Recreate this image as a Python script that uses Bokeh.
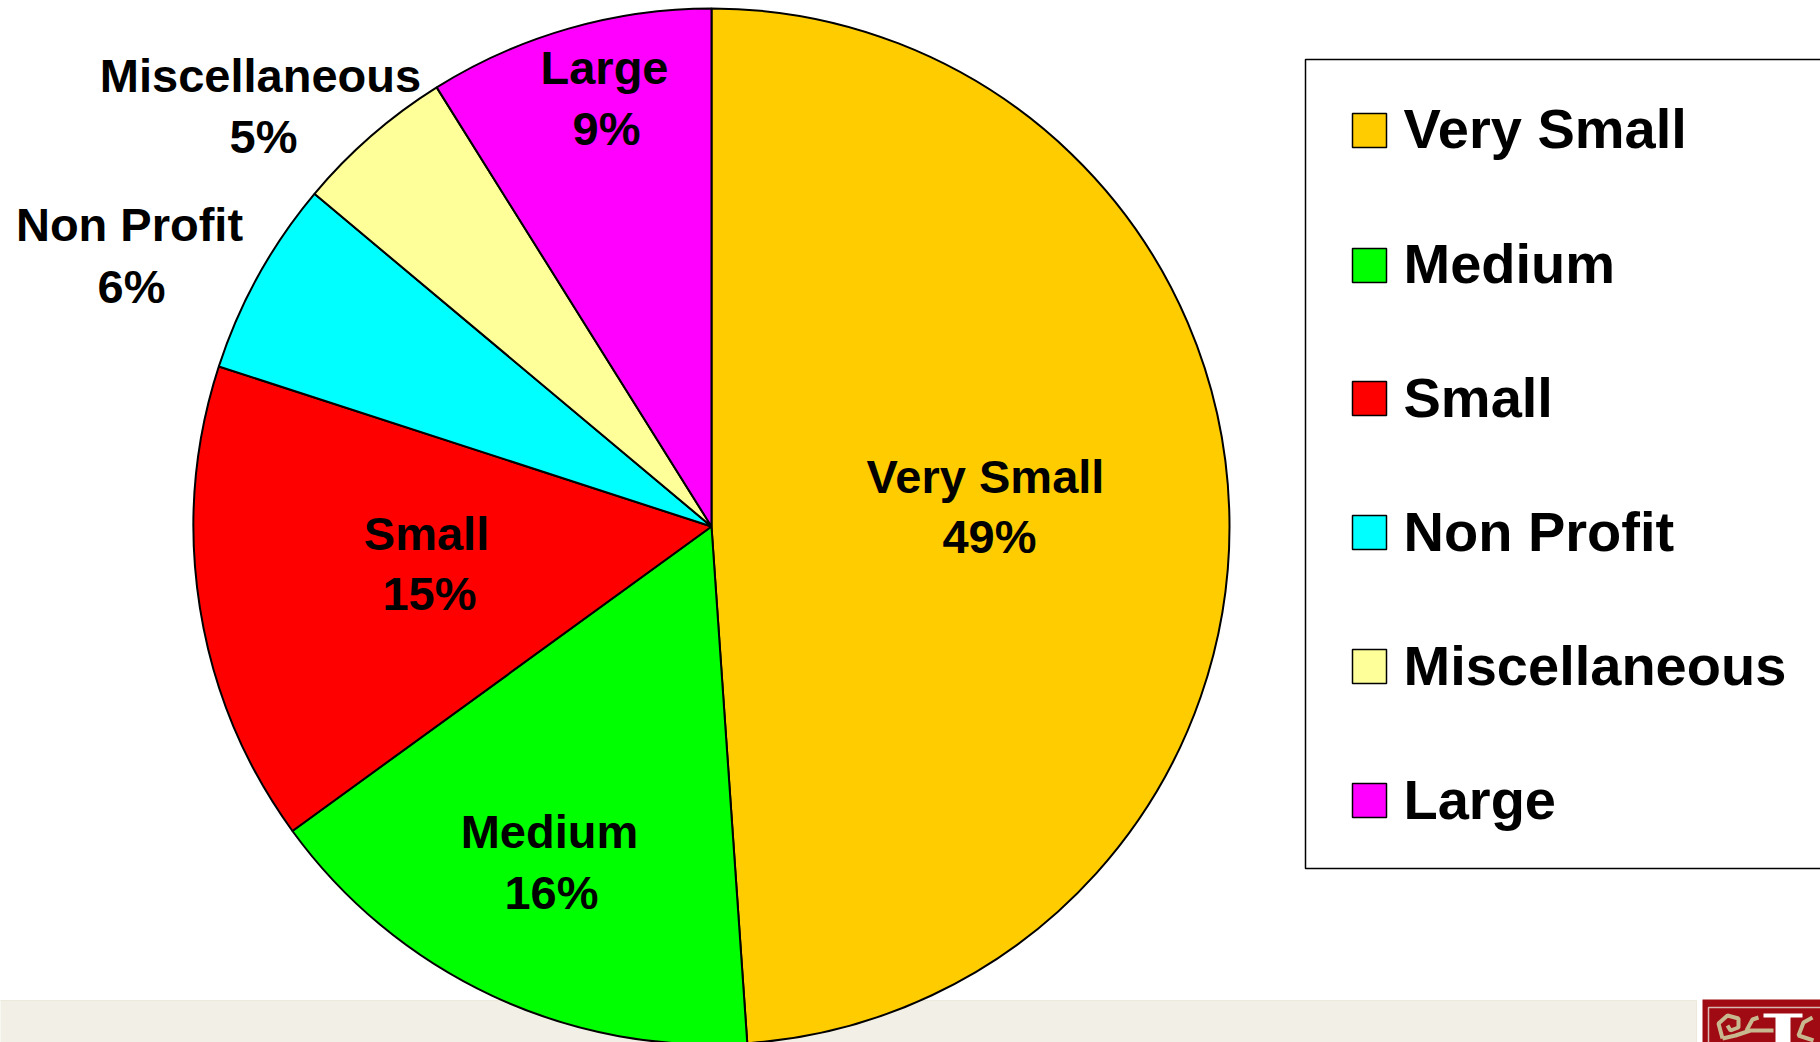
import math
from bokeh.embed import file_html
from bokeh.resources import INLINE
from bokeh.plotting import figure
from bokeh.models import Range1d
from bokeh.core.properties import value

W, H = 1820, 1042
categories = ["Very Small", "Medium", "Small", "Non Profit", "Miscellaneous", "Large"]
percent_labels = ["49%", "16%", "15%", "6%", "5%", "9%"]
slice_shares = [48.9, 16.1, 15.0, 6.1, 5.0, 8.9]
colors = ["#FFCC00", "#00FF00", "#FF0000", "#00FFFF", "#FFFF99", "#FF00FF"]
label_name_xy = [(985, 476), (549, 831), (426, 533), (129, 224), (260, 75), (604, 67)]
label_pct_xy = [(989, 536), (551, 892), (429, 593), (131, 286), (263, 136), (606, 128)]
legend_y = [128, 263, 397, 531, 665, 799]
swatch_y = [130, 265, 398, 532, 666, 800]

FONT = value("Liberation Sans")
Y = lambda v: H - v

p = figure(width=W, height=H, output_backend="svg", toolbar_location=None,
           x_range=Range1d(0, W), y_range=Range1d(0, H), min_border=0,
           background_fill_color="white", border_fill_color="white")
p.axis.visible = False
p.grid.visible = False
p.outline_line_color = None

# footer band and crest
p.quad(left=-5, right=1696, bottom=Y(1050), top=Y(1000), fill_color="#F2F0E6", line_color="#ECE9DA", line_width=1)
p.quad(left=1702, right=1830, bottom=Y(1050), top=Y(999), fill_color="#A00A12", line_color=None)
p.quad(left=1708, right=1830, bottom=Y(1050), top=Y(1007), fill_color=None, line_color="#D8B8B0", line_width=1.5)
crest_x = [[1722, 1718, 1727, 1738, 1738, 1730, 1727],
           [1722, 1735, 1750, 1773],
           [1746, 1752, 1758],
           [1812, 1803, 1798, 1813]]
crest_y = [[1038, 1023, 1015, 1018, 1027, 1030, 1025],
           [1038, 1035, 1030, 1030],
           [1030, 1019, 1017],
           [1017, 1022, 1035, 1040]]
p.multi_line(xs=crest_x, ys=[[Y(v) for v in row] for row in crest_y], line_color="#C8B890", line_width=4)
p.quad(left=1775, right=1790, bottom=Y(1050), top=Y(1014), fill_color="white", line_color=None)
p.quad(left=1763, right=1802, bottom=Y(1017), top=Y(1013), fill_color="white", line_color=None)

# pie
cx, cy, r = 711, Y(526), 518
total = sum(slice_shares)
start = math.pi / 2
for share, col in zip(slice_shares, colors):
    end = start - 2 * math.pi * share / total
    p.wedge(x=cx, y=cy, radius=r, start_angle=start, end_angle=end, direction="clock",
            fill_color=col, line_color="black", line_width=2)
    start = end

for name, pct, nxy, pxy in zip(categories, percent_labels, label_name_xy, label_pct_xy):
    for t, (x, y) in ((name, nxy), (pct, pxy)):
        p.text(x=[x], y=[Y(y)], text=[t], text_font=FONT, text_font_style="bold",
               text_font_size="47px", text_align="center", text_baseline="middle", text_color="black")

# legend
p.quad(left=1305, right=1830, bottom=Y(868), top=Y(59), fill_color="white", line_color="black", line_width=1.5)
for name, col, ly, sy in zip(categories, colors, legend_y, swatch_y):
    p.quad(left=1352, right=1386, bottom=Y(sy + 17), top=Y(sy - 17), fill_color=col, line_color="black", line_width=1.5)
    p.text(x=[1403], y=[Y(ly)], text=[name], text_font=FONT, text_font_style="bold",
           text_font_size="56px", text_align="left", text_baseline="middle", text_color="black")

open("out.html", "w").write(file_html(p, INLINE))
